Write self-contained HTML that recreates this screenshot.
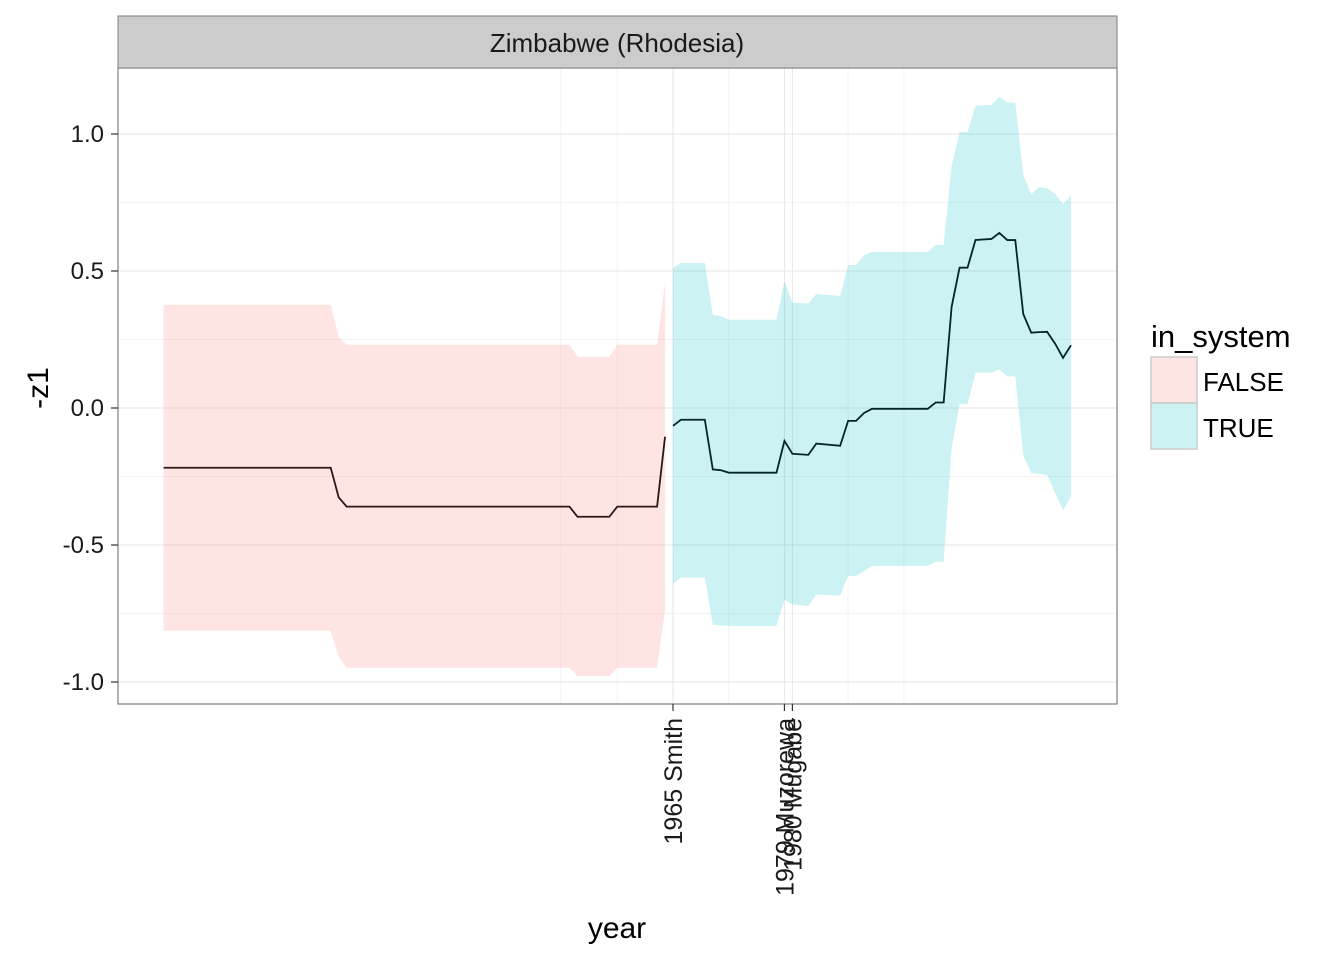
<!DOCTYPE html>
<html><head><meta charset="utf-8"><style>
html,body{margin:0;padding:0;background:#fff;}
svg{display:block;font-family:"Liberation Sans",Arial,sans-serif;}
</style></head><body>
<svg id="chart" width="1344" height="960"></svg>
<script>
const falseYears=[1901,1922,1923,1924,1952,1953,1957,1958,1963,1964];
const falseMid=[-0.218,-0.218,-0.326,-0.36,-0.36,-0.397,-0.397,-0.36,-0.36,-0.105];
const falseHi=[0.377,0.377,0.26,0.231,0.231,0.187,0.187,0.231,0.231,0.455];
const falseLo=[-0.813,-0.813,-0.907,-0.948,-0.948,-0.978,-0.978,-0.948,-0.948,-0.737];
const trueYears=[1965,1966,1969,1970,1971,1972,1978,1979,1980,1982,1983,1986,1987,1988,1989,1990,1997,1998,1999,2000,2001,2002,2003,2005,2006,2007,2008,2009,2010,2011,2012,2013,2014,2015];
const trueMid=[-0.065,-0.043,-0.043,-0.224,-0.227,-0.236,-0.236,-0.120,-0.167,-0.171,-0.130,-0.138,-0.047,-0.047,-0.018,-0.003,-0.003,0.020,0.020,0.369,0.512,0.512,0.613,0.617,0.639,0.613,0.613,0.343,0.275,0.277,0.278,0.235,0.183,0.229];
const trueHi=[0.512,0.529,0.529,0.339,0.336,0.322,0.322,0.463,0.385,0.381,0.416,0.409,0.522,0.522,0.558,0.570,0.570,0.595,0.595,0.884,1.007,1.007,1.103,1.106,1.136,1.115,1.115,0.851,0.780,0.806,0.802,0.782,0.743,0.777];
const trueLo=[-0.641,-0.619,-0.619,-0.791,-0.794,-0.795,-0.795,-0.700,-0.717,-0.722,-0.681,-0.684,-0.613,-0.613,-0.596,-0.576,-0.576,-0.561,-0.561,-0.146,0.014,0.014,0.129,0.129,0.141,0.115,0.115,-0.172,-0.237,-0.241,-0.244,-0.309,-0.374,-0.322];
const yTicks=[1.0,0.5,0.0,-0.5,-1.0];
const yTickLabels=["1.0","0.5","0.0","-0.5","-1.0"];
const yMinor=[0.75,0.25,-0.25,-0.75];
const xMinor=[1950.9,1958,1972,1987,1994];
const leaderYears=[1965,1979,1980];
const leaderLabels=["1965 Smith","1979 Muzorewa","1980 Mugabe"];

const NS="http://www.w3.org/2000/svg";
const svg=document.getElementById('chart');
const PL=118,PR=1117,PT=68,PB=704;
const xs=y=>673+(y-1965)*7.96;
const ys=v=>408-v*274;
function mk(tag,attrs,parent){const e=document.createElementNS(NS,tag);for(const k in attrs)e.setAttribute(k,attrs[k]);(parent||svg).appendChild(e);return e;}

const bg=mk('rect',{x:PL,y:PT,width:PR-PL,height:PB-PT,fill:'#fff'});


yMinor.forEach(v=>{const l=mk('line',{x1:PL,x2:PR,y1:ys(v),y2:ys(v),stroke:'#f4f4f4','stroke-width':1});

});
xMinor.forEach(v=>{const l=mk('line',{x1:xs(v),x2:xs(v),y1:PT,y2:PB,stroke:'#f4f4f4','stroke-width':1});

});
yTicks.forEach(v=>{const l=mk('line',{x1:PL,x2:PR,y1:ys(v),y2:ys(v),stroke:'#e6e6e6','stroke-width':1});

});
leaderYears.forEach(v=>{const l=mk('line',{x1:xs(v),x2:xs(v),y1:PT,y2:PB,stroke:'#e6e6e6','stroke-width':1});

});

function ribbon(xsA,hi,lo,fill,name){
  let d='M'+xsA.map((y,i)=>xs(y)+','+ys(hi[i])).join(' L');
  for(let i=xsA.length-1;i>=0;i--)d+=' L'+xs(xsA[i])+','+ys(lo[i]);
  const p=mk('path',{d:d+'Z',fill:fill});
  
  
}
function line(xsA,m,col,name){
  const p=mk('path',{d:'M'+xsA.map((y,i)=>xs(y)+','+ys(m[i])).join(' L'),fill:'none',stroke:col,'stroke-width':1.8});
  
  
}
ribbon(falseYears,falseHi,falseLo,'rgba(248,118,109,0.2)','ribbon-false');
ribbon(trueYears,trueHi,trueLo,'rgba(0,191,196,0.2)','ribbon-true');
line(falseYears,falseMid,'#2e1616','line-false');
line(trueYears,trueMid,'#052626','line-true');

const border=mk('rect',{x:PL,y:PT,width:PR-PL,height:PB-PT,fill:'none',stroke:'#7f7f7f','stroke-width':1.2});


const strip=mk('rect',{x:PL,y:16,width:PR-PL,height:PT-16,fill:'#cccccc',stroke:'#7f7f7f','stroke-width':1});


const st=mk('text',{x:617,y:52,'text-anchor':'middle','font-size':26,fill:'#1a1a1a'});st.textContent='Zimbabwe (Rhodesia)';



yTicks.forEach((v,i)=>{
  const t=mk('line',{x1:111,x2:PL,y1:ys(v),y2:ys(v),stroke:'#333','stroke-width':1.2});
  
  
  const tx=mk('text',{x:104,y:ys(v)+8,'text-anchor':'end','font-size':24,fill:'#1a1a1a'});tx.textContent=yTickLabels[i];
  
  
});
leaderYears.forEach((v,i)=>{
  const t=mk('line',{x1:xs(v),x2:xs(v),y1:PB,y2:711,stroke:'#333','stroke-width':1.2});
  
  
  const tx=mk('text',{x:0,y:0,'text-anchor':'end','font-size':25,fill:'#1a1a1a',transform:`translate(${xs(v)+9},718) rotate(-90)`});tx.textContent=leaderLabels[i];
  
  
});
const xt=mk('text',{x:617,y:938,'text-anchor':'middle','font-size':30,fill:'#000'});xt.textContent='year';


const yt=mk('text',{x:0,y:0,'text-anchor':'middle','font-size':30,fill:'#000',transform:'translate(48,388) rotate(-90)'});yt.textContent='-z1';



const lt=mk('text',{x:1151,y:347,'font-size':31,fill:'#000'});lt.textContent='in_system';


[['FALSE','rgba(248,118,109,0.2)',357],['TRUE','rgba(0,191,196,0.2)',403]].forEach(([lab,c,y])=>{
  const r=mk('rect',{x:1151,y:y,width:46,height:46,fill:c,stroke:'#cccccc','stroke-width':1.5});
  
  
  const t=mk('text',{x:1203,y:y+34,'font-size':26,fill:'#000'});t.textContent=lab;
  
  
});
</script>
</body></html>
